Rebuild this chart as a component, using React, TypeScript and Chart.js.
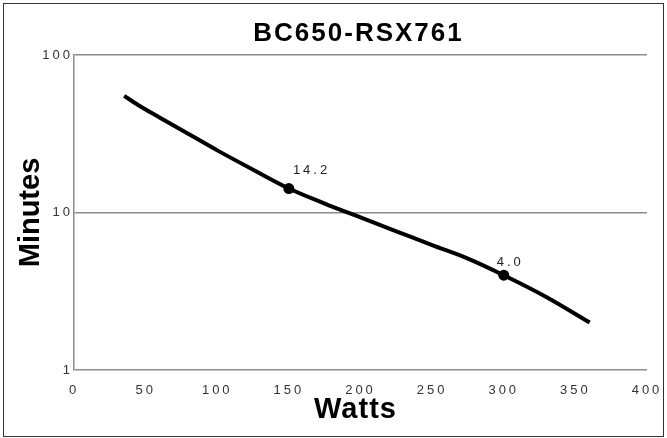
import { useEffect, useRef } from "react";
import { Chart, registerables } from "chart.js";

Chart.register(...registerables);

const chartTitle = "BC650-RSX761";
const xAxisTitle = "Watts";
const yAxisTitle = "Minutes";

const watts = [35, 45, 60, 80, 100, 125, 150, 175, 200, 225, 250, 275, 300, 330, 360];
const minutes = [55, 48, 40, 31.5, 24.8, 18.7, 14.2, 11.4, 9.3, 7.6, 6.2, 5.1, 4.0, 2.9, 2.0];

const markedWatts = [150, 300];
const markedMinutes = [14.2, 4.0];
const markedLabels = ["14.2", "4.0"];

const xTicks = [0, 50, 100, 150, 200, 250, 300, 350, 400];
const yTicks = [1, 10, 100];

const TICK_FONT = "'Liberation Sans Narrow', 'Liberation Sans', Arial, sans-serif";
const BOLD_FONT = "'Liberation Sans', Arial, sans-serif";

const textPlugin = {
  id: "customTexts",
  beforeDraw(chart: any) {
    (chart.ctx as any).letterSpacing = "3px";
  },
  afterDatasetsDraw(chart: any) {
    const ctx = chart.ctx;
    const xs = chart.scales.x;
    const ys = chart.scales.y;
    const offsets = [
      [4, -18],
      [-7, -13],
    ];
    ctx.save();
    (ctx as any).letterSpacing = "3px";
    ctx.font = `13px ${TICK_FONT}`;
    ctx.fillStyle = "#222";
    ctx.textAlign = "left";
    ctx.textBaseline = "middle";
    markedWatts.forEach((w, i) => {
      const px = xs.getPixelForValue(w);
      const py = ys.getPixelForValue(markedMinutes[i]);
      ctx.fillText(markedLabels[i], px + offsets[i][0], py + offsets[i][1]);
    });
    ctx.restore();
  },
  afterDraw(chart: any) {
    const ctx = chart.ctx;
    const area = chart.chartArea;
    const cx = (area.left + area.right) / 2;
    const cy = (area.top + area.bottom) / 2;
    ctx.save();
    ctx.fillStyle = "#000";
    ctx.textAlign = "center";
    ctx.textBaseline = "middle";
    (ctx as any).letterSpacing = "2px";
    ctx.font = `bold 26px ${BOLD_FONT}`;
    ctx.fillText(chartTitle, cx - 2, 30);
    (ctx as any).letterSpacing = "1px";
    ctx.font = `bold 29px ${BOLD_FONT}`;
    ctx.fillText(xAxisTitle, cx - 5, 406);
    (ctx as any).letterSpacing = "0px";
    ctx.translate(27, cy);
    ctx.rotate(-Math.PI / 2);
    ctx.fillText(yAxisTitle, 0, 0);
    ctx.restore();
  },
};

export default function App() {
  const canvasRef = useRef<HTMLCanvasElement | null>(null);

  useEffect(() => {
    if (!canvasRef.current) return;
    const chart = new Chart(canvasRef.current, {
      type: "line",
      data: {
        datasets: [
          {
            data: watts.map((w, i) => ({ x: w, y: minutes[i] })),
            borderColor: "#000",
            borderWidth: 4,
            pointRadius: 0,
            cubicInterpolationMode: "monotone",
            fill: false,
          },
          {
            type: "scatter",
            data: markedWatts.map((w, i) => ({ x: w, y: markedMinutes[i] })),
            backgroundColor: "#000",
            borderColor: "#000",
            pointRadius: 5.5,
            borderWidth: 0,
            showLine: false,
          } as any,
        ],
      },
      options: {
        animation: false,
        responsive: false,
        maintainAspectRatio: false,
        devicePixelRatio: 1,
        layout: { padding: { top: 51, right: 16, left: 0, bottom: 0 } },
        plugins: {
          legend: { display: false },
          tooltip: { enabled: false },
          title: { display: false },
        },
        scales: {
          x: {
            type: "linear",
            min: 0,
            max: 400,
            afterBuildTicks: (s: any) => {
              s.ticks = xTicks.map((v) => ({ value: v }));
            },
            afterFit: (s: any) => {
              s.height = 66;
            },
            grid: { display: false, drawTicks: true, tickLength: 13 },
            border: { display: false },
            ticks: {
              autoSkip: false,
              maxRotation: 0,
              padding: 0,
              color: "#333",
              font: { family: TICK_FONT, size: 13 },
              callback: (v: any) => String(v),
            },
          },
          y: {
            type: "logarithmic",
            min: 1,
            max: 100,
            afterBuildTicks: (s: any) => {
              s.ticks = yTicks.map((v) => ({ value: v }));
            },
            afterFit: (s: any) => {
              s.width = 70;
            },
            grid: { color: "#8c8c8c", lineWidth: 1.5, drawTicks: false },
            border: { display: true, color: "#8c8c8c", width: 1.5 },
            ticks: {
              autoSkip: false,
              padding: 1,
              color: "#333",
              font: { family: TICK_FONT, size: 13 },
              callback: (v: any) => String(v),
            },
          },
        },
      } as any,
      plugins: [textPlugin],
    });
    return () => chart.destroy();
  }, []);

  return (
    <div
      style={{
        position: "absolute",
        left: 0,
        top: 0,
        width: 667,
        height: 438,
        background: "#fff",
      }}
    >
      <div
        style={{
          position: "absolute",
          left: 3,
          top: 3,
          width: 659,
          height: 432,
          border: "1px solid #333",
        }}
      >
        <canvas ref={canvasRef} width={659} height={432} style={{ display: "block" }} />
      </div>
    </div>
  );
}
